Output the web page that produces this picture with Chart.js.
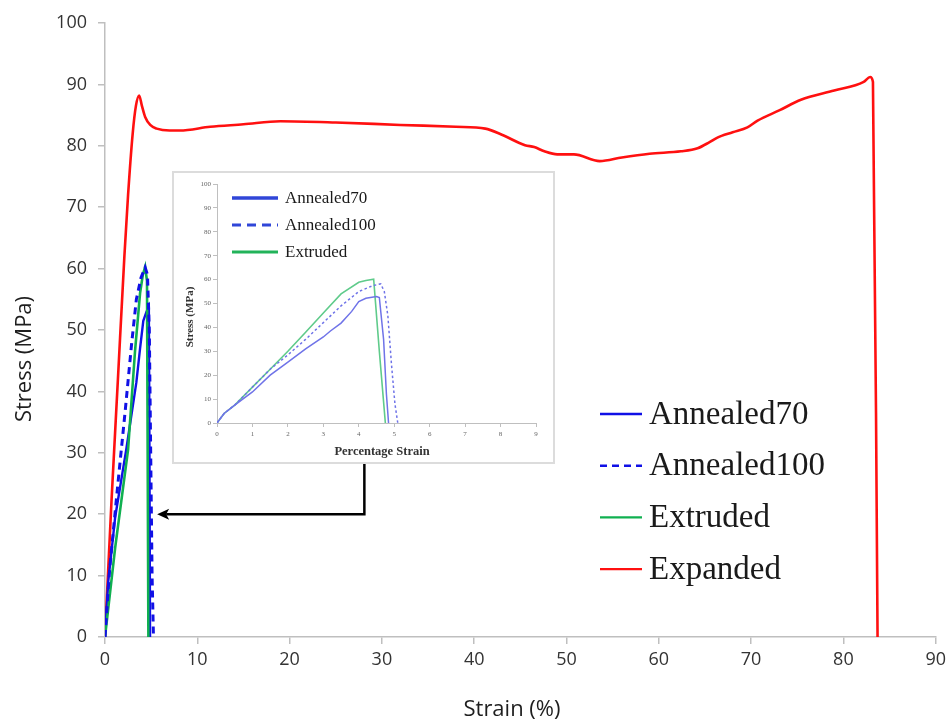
<!DOCTYPE html>
<html>
<head>
<meta charset="utf-8">
<script src="https://cdn.jsdelivr.net/npm/chart.js@4.4.1/dist/chart.umd.min.js"></script>
<style>
  html, body { margin: 0; padding: 0; background: #fff; }
  #wrap { position: relative; width: 951px; height: 722px; }
  #main { position: absolute; left: 0; top: 0; }
  #insetBox { position: absolute; left: 172px; top: 171px; width: 379px; height: 289px;
              border: 2px solid #dcdcdc; background: #fff; }
  #inset { display: block; }
</style>
</head>
<body>
<div id="wrap">
  <canvas id="main" width="951" height="722"></canvas>
  <div id="insetBox"><canvas id="inset" width="379" height="289"></canvas></div>
</div>
<script>
// series names (shared by both plots)
const seriesNames = ['Annealed70', 'Annealed100', 'Extruded', 'Expanded'];

// main plot, strain in %, stress in MPa
const a70Strain = [0, 0.35, 1.1, 2.3, 3.4, 3.8, 4.15, 4.5, 4.75, 4.82, 4.88];
const a70Stress = [0, 9, 19.5, 30.5, 41.5, 47, 51.5, 53, 53.8, 30, 0];

const a100Strain = [0, 0.5, 1.4, 2.2, 2.9, 3.4, 3.9, 4.35, 4.6, 4.8, 4.95, 5.1, 5.25];
const a100Stress = [0, 11, 25, 37, 48, 55, 58.5, 60.2, 59, 50, 30, 10, 0];

const extStrain = [0, 1.1, 2.5, 3.25, 3.8, 4.1, 4.35, 4.55, 4.7];
const extStress = [0, 14.5, 30.5, 46.5, 56, 59, 60.3, 58, 0];

const expStrain = [0, 0.7, 1.4, 2.1, 2.5, 3.0, 3.35, 3.7, 4.0, 4.35, 4.9, 5.6, 7, 8.1, 11.4, 15, 19, 25, 32, 38,
  41.2, 43, 45.5, 46.5, 47.6, 49, 50.8, 53.6, 56, 59, 62.4, 64.2, 65.5, 66.3, 68, 69.6, 70.7, 73.1, 75.4, 79,
  82.2, 82.9, 83.2, 83.7];
const expStress = [0, 22, 42, 62, 72, 82, 86.5, 88.2, 86.5, 84.7, 83.4, 82.8, 82.5, 82.5, 83.1, 83.5, 84, 83.8, 83.4, 83.1,
  82.8, 81.8, 80.1, 79.8, 79.1, 78.6, 78.6, 77.5, 78.1, 78.7, 79.1, 79.6, 80.6, 81.3, 82.2, 83.0, 84.1, 85.8, 87.5, 89.0,
  90.4, 91.2, 90.4, 0];

// inset plot, percentage strain 0-9
const inA70Strain = [0, 0.2, 0.5, 1, 1.5, 2, 2.5, 3, 3.2, 3.5, 3.8, 4, 4.2, 4.5, 4.58, 4.7, 4.78, 4.84];
const inA70Stress = [0, 4, 7.5, 13, 20, 25.5, 31, 36, 38.5, 41.8, 46.7, 50.8, 52.2, 52.9, 52.5, 35, 12, 0];

const inA100Strain = [0, 0.2, 0.5, 1, 1.5, 2, 2.5, 3, 3.5, 4, 4.4, 4.62, 4.72, 4.82, 4.92, 5.02, 5.1];
const inA100Stress = [0, 4, 7.5, 15, 22.5, 28.5, 35, 42, 49, 55, 57.5, 58.2, 55, 45, 25, 8, 0];

const inExtStrain = [0, 0.2, 0.5, 1, 1.5, 2, 2.5, 3, 3.5, 4, 4.2, 4.42, 4.58, 4.75];
const inExtStress = [0, 4, 7.5, 15, 22.5, 30, 38, 46, 54, 58.9, 59.6, 60.2, 30, 0];

const pts = (xs, ys) => xs.map((x, i) => ({ x: x, y: ys[i] }));

// draws free text such as axis titles
const textPlugin = {
  id: 'freeText',
  afterDraw(chart, args, opts) {
    const ctx = chart.ctx;
    (opts.items || []).forEach(t => {
      ctx.save();
      ctx.font = t.font;
      ctx.fillStyle = t.color || '#222';
      ctx.textAlign = 'center';
      ctx.textBaseline = 'middle';
      ctx.translate(t.x, t.y);
      if (t.rotate) ctx.rotate(t.rotate);
      ctx.fillText(t.text, 0, 0);
      ctx.restore();
    });
  }
};

// legend drawn at a fixed spot inside the chart
const boxLegend = {
  id: 'boxLegend',
  afterDraw(chart, args, o) {
    const ctx = chart.ctx;
    o.items.forEach((it, i) => {
      const y = o.top + i * o.gap;
      ctx.save();
      ctx.strokeStyle = it.color;
      ctx.lineWidth = it.width;
      ctx.setLineDash(it.dash || []);
      ctx.beginPath();
      ctx.moveTo(o.x0, y);
      ctx.lineTo(o.x1, y);
      ctx.stroke();
      ctx.setLineDash([]);
      ctx.font = o.font;
      ctx.fillStyle = '#1a1a1a';
      ctx.textBaseline = 'middle';
      ctx.textAlign = 'left';
      ctx.fillText(it.text, o.textX, y + 1);
      ctx.restore();
    });
  }
};

// elbow arrow from the inset to the curves, given in data units
const arrowPlugin = {
  id: 'elbowArrow',
  afterDatasetsDraw(chart, args, o) {
    if (!o.path) return;
    const xs = chart.scales.x, ys = chart.scales.y;
    const p = o.path.map(v => [xs.getPixelForValue(v[0]), ys.getPixelForValue(v[1])]);
    const ctx = chart.ctx;
    const n = p.length - 1;
    const dx = p[n][0] - p[n - 1][0], dy = p[n][1] - p[n - 1][1];
    const len = Math.hypot(dx, dy), ux = dx / len, uy = dy / len;
    ctx.save();
    ctx.strokeStyle = '#000';
    ctx.fillStyle = '#000';
    ctx.lineWidth = 2.5;
    ctx.beginPath();
    ctx.moveTo(p[0][0], p[0][1]);
    for (let i = 1; i < n; i++) ctx.lineTo(p[i][0], p[i][1]);
    ctx.lineTo(p[n][0] - ux * 9, p[n][1] - uy * 9);
    ctx.stroke();
    ctx.beginPath();
    ctx.moveTo(p[n][0], p[n][1]);
    ctx.lineTo(p[n][0] - ux * 12 - uy * 5.5, p[n][1] - uy * 12 + ux * 5.5);
    ctx.lineTo(p[n][0] - ux * 9, p[n][1] - uy * 9);
    ctx.lineTo(p[n][0] - ux * 12 + uy * 5.5, p[n][1] - uy * 12 - ux * 5.5);
    ctx.closePath();
    ctx.fill();
    ctx.restore();
  }
};

const BLUE = '#1010e6', GREEN = '#10b050', RED = '#ff1010';
const AXIS = '#bfbfbf';

new Chart(document.getElementById('main'), {
  type: 'line',
  data: {
    datasets: [
      { label: seriesNames[3], data: pts(expStrain, expStress), borderColor: RED, borderWidth: 2.6,
        cubicInterpolationMode: 'monotone', order: 4 },
      { label: seriesNames[0], data: pts(a70Strain, a70Stress), borderColor: BLUE, borderWidth: 2.4, order: 3 },
      { label: seriesNames[2], data: pts(extStrain, extStress), borderColor: GREEN, borderWidth: 2.6, order: 2 },
      { label: seriesNames[1], data: pts(a100Strain, a100Stress), borderColor: BLUE, borderWidth: 3,
        borderDash: [7, 5], order: 1 }
    ]
  },
  options: {
    responsive: false,
    animation: false,
    devicePixelRatio: 1,
    elements: { point: { radius: 0 }, line: { tension: 0, fill: false } },
    layout: { padding: { top: 23, right: 14, left: 0, bottom: 0 } },
    plugins: {
      legend: { display: false },
      tooltip: { enabled: false },
      freeText: {
        items: [
          { text: 'Stress (MPa)', x: 25, y: 359, rotate: -Math.PI / 2, font: '22px "Open Sans"', color: '#1e1e1e' },
          { text: 'Strain (%)', x: 512, y: 710, font: '22px "Open Sans"', color: '#1e1e1e' }
        ]
      },
      boxLegend: {
        x0: 600, x1: 642, textX: 649, top: 414, gap: 51.7, font: '33px "Liberation Serif"',
        items: [
          { text: seriesNames[0], color: BLUE, width: 2.4 },
          { text: seriesNames[1], color: BLUE, width: 2.4, dash: [7, 5] },
          { text: seriesNames[2], color: GREEN, width: 2.4 },
          { text: seriesNames[3], color: RED, width: 2.4 }
        ]
      },
      elbowArrow: { path: [[28.1, 29], [28.1, 20], [5.65, 20]] }
    },
    scales: {
      x: {
        type: 'linear', min: 0, max: 90,
        ticks: { stepSize: 10, padding: 5, color: '#333', font: { family: 'Open Sans', size: 18 } },
        grid: { drawOnChartArea: false, tickLength: 7, color: AXIS, lineWidth: 1.5 },
        border: { color: AXIS, width: 1.5 },
        afterFit: s => { s.height = 85; }
      },
      y: {
        min: 0, max: 100,
        ticks: { stepSize: 10, padding: 11, color: '#333', font: { family: 'Open Sans', size: 18 } },
        grid: { drawOnChartArea: false, tickLength: 7, color: AXIS, lineWidth: 1.5 },
        border: { color: AXIS, width: 1.5 },
        afterFit: s => { s.width = 105; }
      }
    }
  },
  plugins: [textPlugin, boxLegend, arrowPlugin]
});

const IN_BLUE = '#6f73e8', IN_GREEN = '#5fcb8b';

new Chart(document.getElementById('inset'), {
  type: 'line',
  data: {
    datasets: [
      { label: seriesNames[0], data: pts(inA70Strain, inA70Stress), borderColor: IN_BLUE, borderWidth: 1.5 },
      { label: seriesNames[1], data: pts(inA100Strain, inA100Stress), borderColor: IN_BLUE, borderWidth: 1.5,
        borderDash: [2.5, 2.5] },
      { label: seriesNames[2], data: pts(inExtStrain, inExtStress), borderColor: IN_GREEN, borderWidth: 1.6 }
    ]
  },
  options: {
    responsive: false,
    animation: false,
    devicePixelRatio: 1,
    elements: { point: { radius: 0 }, line: { tension: 0, fill: false } },
    layout: { padding: { top: 11, right: 17, left: 0, bottom: 0 } },
    plugins: {
      legend: { display: false },
      tooltip: { enabled: false },
      freeText: {
        items: [
          { text: 'Stress (MPa)', x: 16, y: 144, rotate: -Math.PI / 2, font: 'bold 11px "Liberation Serif"', color: '#333' },
          { text: 'Percentage Strain', x: 208, y: 279, font: 'bold 12.5px "Liberation Serif"', color: '#333' }
        ]
      },
      boxLegend: {
        x0: 58, x1: 104, textX: 111, top: 25, gap: 27, font: '17px "Liberation Serif"',
        items: [
          { text: seriesNames[0], color: '#3046d8', width: 3.5 },
          { text: seriesNames[1], color: '#3046d8', width: 3, dash: [9, 6] },
          { text: seriesNames[2], color: '#22b35a', width: 3 }
        ]
      }
    },
    scales: {
      x: {
        type: 'linear', min: 0, max: 9,
        ticks: { stepSize: 1, padding: 3, color: '#666', font: { family: 'Liberation Serif', size: 7 } },
        grid: { drawOnChartArea: false, tickLength: 4, color: AXIS },
        border: { color: AXIS },
        afterFit: s => { s.height = 39; }
      },
      y: {
        min: 0, max: 100,
        ticks: { stepSize: 10, padding: 2, color: '#666', font: { family: 'Liberation Serif', size: 7 } },
        grid: { drawOnChartArea: false, tickLength: 4, color: AXIS },
        border: { color: AXIS },
        afterFit: s => { s.width = 43; }
      }
    }
  },
  plugins: [textPlugin, boxLegend]
});
</script>
</body>
</html>
